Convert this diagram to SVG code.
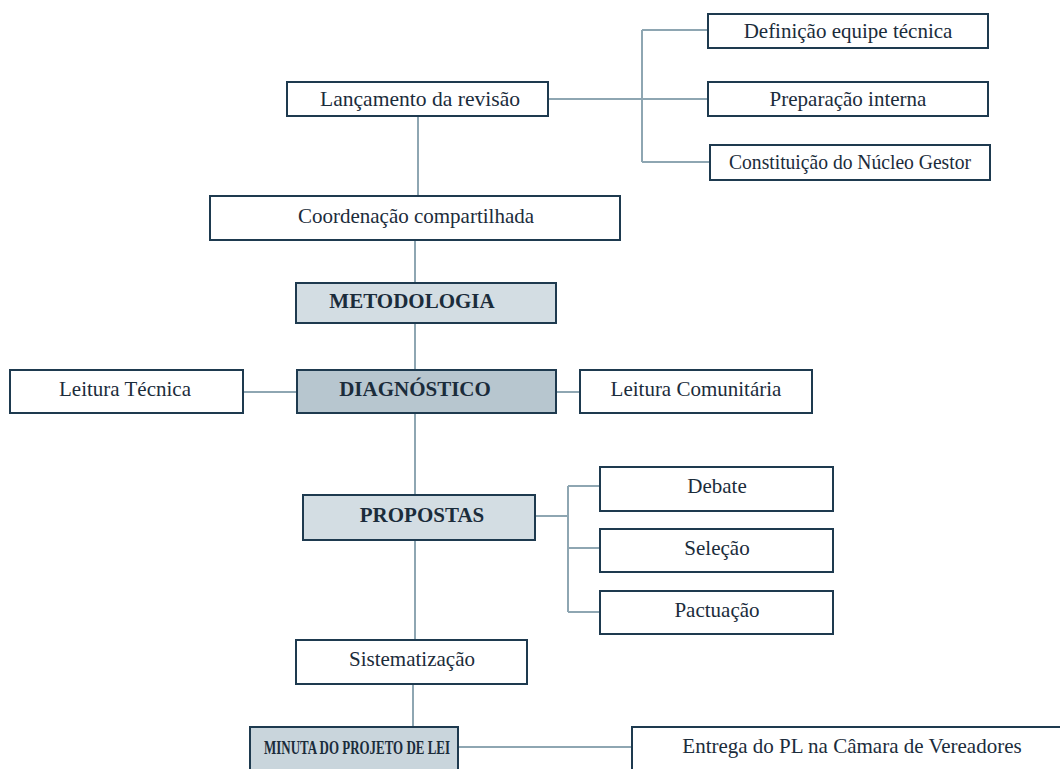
<svg xmlns="http://www.w3.org/2000/svg" width="1060" height="769" viewBox="0 0 1060 769">
<defs>
<style>
.box{fill:#ffffff;stroke:#1e3a4f;stroke-width:2}
.hl{fill:#d3dde3;stroke:#1e3a4f;stroke-width:2}
.hd{fill:#b7c6cf;stroke:#1e3a4f;stroke-width:2}
.hm{fill:#c9d5dc;stroke:#1e3a4f;stroke-width:2}
.t{font-family:"Liberation Serif","Times New Roman",serif;font-size:21px;fill:#1b2c3b;text-anchor:middle;dominant-baseline:central}
.b{font-weight:bold}
.c{fill:none;stroke:#8ea6b2;stroke-width:2}
</style>
</defs>
<rect width="1060" height="769" fill="#ffffff"/>
<g id="connectors">
<path class="c" d="M548 99H708M642 30V162M642 30H708M642 162H710"/>
<path class="c" d="M418 116V196M415 240V283M415 323V370M415 413V495M415 540V640M413 684V727"/>
<path class="c" d="M243 392H297M556 392H580"/>
<path class="c" d="M535 516H568M568 486V612M568 486H600M568 548H600M568 612H600"/>
<path class="c" d="M458 747H632"/>
</g>
<g id="n-lancamento"><rect class="box" x="287" y="82" width="261" height="34"/><text class="t" x="420" y="99" textLength="200" lengthAdjust="spacingAndGlyphs">Lançamento da revisão</text></g>
<g id="n-definicao"><rect class="box" x="708" y="14" width="280" height="34"/><text class="t" x="848" y="31">Definição equipe técnica</text></g>
<g id="n-preparacao"><rect class="box" x="708" y="82" width="280" height="34"/><text class="t" x="848" y="99">Preparação interna</text></g>
<g id="n-constituicao"><rect class="box" x="710" y="145" width="280" height="35"/><text class="t" x="850" y="162" textLength="242" lengthAdjust="spacingAndGlyphs">Constituição do Núcleo Gestor</text></g>
<g id="n-coordenacao"><rect class="box" x="210" y="196" width="410" height="44"/><text class="t" x="416" y="216">Coordenação compartilhada</text></g>
<g id="n-metodologia"><rect class="hl" x="296" y="283" width="260" height="40"/><text class="t b" x="412" y="301">METODOLOGIA</text></g>
<g id="n-diagnostico"><rect class="hd" x="297" y="370" width="259" height="43"/><text class="t b" x="415" y="389">DIAGNÓSTICO</text></g>
<g id="n-leitura-tecnica"><rect class="box" x="10" y="370" width="233" height="43"/><text class="t" x="125" y="389">Leitura Técnica</text></g>
<g id="n-leitura-comunitaria"><rect class="box" x="580" y="370" width="232" height="43"/><text class="t" x="696" y="389">Leitura Comunitária</text></g>
<g id="n-propostas"><rect class="hl" x="303" y="495" width="232" height="45"/><text class="t b" x="422" y="515">PROPOSTAS</text></g>
<g id="n-debate"><rect class="box" x="600" y="467" width="233" height="44"/><text class="t" x="717" y="486">Debate</text></g>
<g id="n-selecao"><rect class="box" x="600" y="529" width="233" height="43"/><text class="t" x="717" y="548">Seleção</text></g>
<g id="n-pactuacao"><rect class="box" x="600" y="591" width="233" height="43"/><text class="t" x="717" y="610">Pactuação</text></g>
<g id="n-sistematizacao"><rect class="box" x="296" y="640" width="231" height="44"/><text class="t" x="412" y="659">Sistematização</text></g>
<g id="n-minuta"><rect class="hm" x="250" y="727" width="208" height="50"/><text class="t b" x="357" y="747" style="font-size:19px" textLength="186" lengthAdjust="spacingAndGlyphs">MINUTA DO PROJETO DE LEI</text></g>
<g id="n-entrega"><rect class="box" x="632" y="727" width="440" height="50"/><text class="t" x="852" y="746">Entrega do PL na Câmara de Vereadores</text></g>
</svg>
